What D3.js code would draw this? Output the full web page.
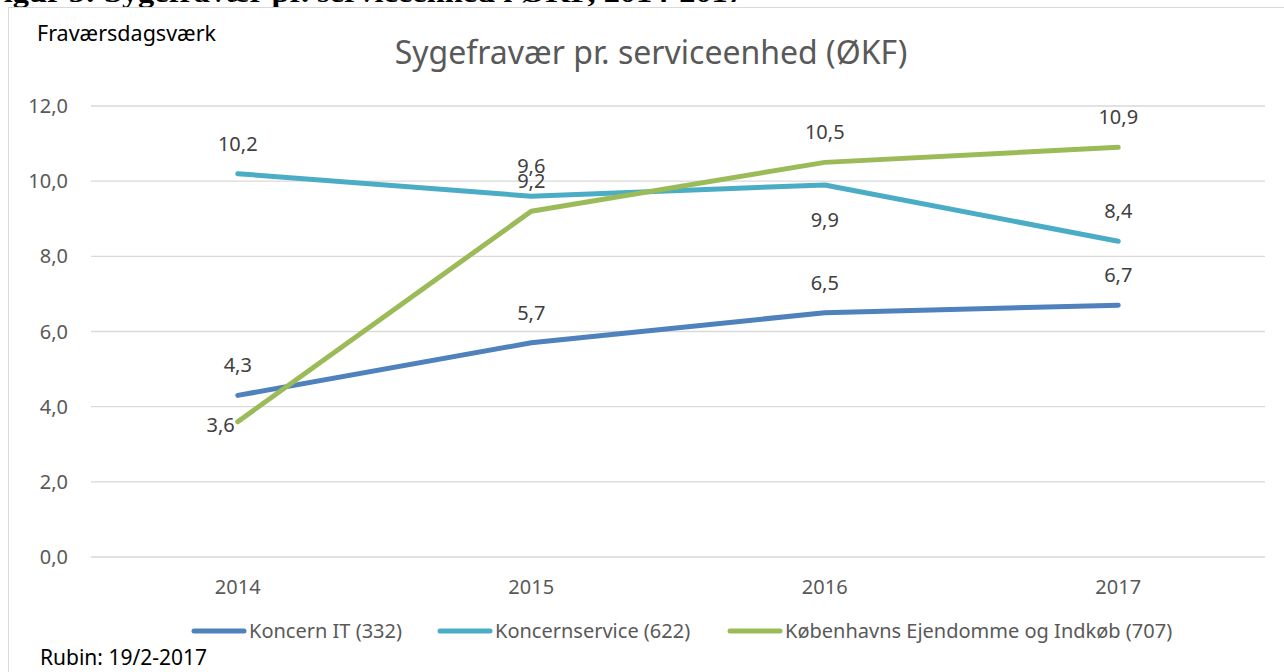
<!DOCTYPE html>
<html>
<head>
<meta charset="utf-8">
<script src="https://cdn.jsdelivr.net/npm/d3@7"></script>
<style>
  body { margin: 0; background: #fff; }
  svg { display: block; font-family: "Noto Sans", sans-serif; }
</style>
</head>
<body>
<div id="chart"></div>
<script>
// data
const years = ["2014", "2015", "2016", "2017"];
const koncernIT = [4.3, 5.7, 6.5, 6.7];
const koncernservice = [10.2, 9.6, 9.9, 8.4];
const kei = [3.6, 9.2, 10.5, 10.9];
const seriesNames = ["Koncern IT (332)", "Koncernservice (622)", "Københavns Ejendomme og Indkøb (707)"];
const yTicks = [0, 2, 4, 6, 8, 10, 12];

// label placement per point: "above", "below", "left"
const labelPos = [
  ["above", "above", "above", "above"],
  ["above", "above", "below", "above"],
  ["left", "above", "above", "above"]
];

const colors = ["#4f81bd", "#4bacc6", "#9bbb59"];
const series = [koncernIT, koncernservice, kei];

const W = 1284, H = 672;
const margin = { top: 106, right: 19, bottom: 115, left: 91 };

const svg = d3.select("#chart").append("svg")
  .attr("width", W).attr("height", H);

// the caption of the document above, cut off by the page edge
svg.append("text")
  .attr("x", -16).attr("y", 2)
  .attr("textLength", 760)
  .attr("lengthAdjust", "spacingAndGlyphs")
  .style("font-family", "'Liberation Serif', serif")
  .style("font-weight", "bold")
  .style("font-size", "27px")
  .text("Figur 5: Sygefravær pr. serviceenhed i ØKF, 2014-2017");

// chart frame
svg.append("rect")
  .attr("x", 8.5).attr("y", 7.5)
  .attr("width", W + 20).attr("height", H + 20)
  .attr("fill", "#fff")
  .attr("stroke", "#d9d9d9");

const x = d3.scaleBand()
  .domain(years)
  .range([margin.left, W - margin.right]);

const y = d3.scaleLinear()
  .domain([0, 12])
  .range([H - margin.bottom, margin.top]);

// gridlines
svg.append("g")
  .selectAll("line")
  .data(yTicks)
  .enter().append("line")
  .attr("x1", margin.left).attr("x2", W - margin.right)
  .attr("y1", d => y(d)).attr("y2", d => y(d))
  .attr("stroke", "#d9d9d9")
  .attr("stroke-width", 1.3);

// y axis labels
const fmt = d => d3.format(".1f")(d).replace(".", ",");
svg.append("g")
  .selectAll("text")
  .data(yTicks)
  .enter().append("text")
  .attr("x", 68).attr("y", d => y(d))
  .attr("dy", "0.35em")
  .attr("text-anchor", "end")
  .attr("fill", "#595959")
  .style("font-size", "20px")
  .text(fmt);

// x axis labels
svg.append("g")
  .selectAll("text")
  .data(years)
  .enter().append("text")
  .attr("x", d => x(d) + x.bandwidth() / 2)
  .attr("y", 594)
  .attr("text-anchor", "middle")
  .attr("fill", "#595959")
  .style("font-size", "20px")
  .text(d => d);

// lines
const line = d3.line()
  .x((d, i) => x(years[i]) + x.bandwidth() / 2)
  .y(d => y(d));

svg.append("g")
  .selectAll("path")
  .data(series)
  .enter().append("path")
  .attr("d", line)
  .attr("fill", "none")
  .attr("stroke", (d, i) => colors[i])
  .attr("stroke-width", 5)
  .attr("stroke-linecap", "round")
  .attr("stroke-linejoin", "round");

// data labels
series.forEach((s, si) => {
  svg.append("g")
    .selectAll("text")
    .data(s)
    .enter().append("text")
    .attr("x", (d, i) => {
      const cx = x(years[i]) + x.bandwidth() / 2;
      return labelPos[si][i] === "left" ? cx - 3 : cx;
    })
    .attr("y", (d, i) => {
      const p = labelPos[si][i];
      if (p === "above") return y(d) - 30;
      if (p === "below") return y(d) + 35;
      return y(d) + 3;
    })
    .attr("dy", "0.35em")
    .attr("text-anchor", (d, i) => labelPos[si][i] === "left" ? "end" : "middle")
    .attr("fill", "#404040")
    .style("font-size", "20px")
    .text(d => d.toFixed(1).replace(".", ","));
});

// title and axis title
svg.append("text")
  .attr("x", 651).attr("y", 64)
  .attr("text-anchor", "middle")
  .attr("fill", "#595959")
  .style("font-size", "32px")
  .text("Sygefravær pr. serviceenhed (ØKF)");

svg.append("text")
  .attr("x", 37).attr("y", 41)
  .attr("fill", "#000")
  .style("font-size", "21.5px")
  .text("Fraværsdagsværk");

// legend
const legendX = [192, 438, 728];
const legend = svg.append("g")
  .selectAll("g")
  .data(seriesNames)
  .enter().append("g")
  .attr("transform", (d, i) => "translate(" + legendX[i] + ",631)");

legend.append("line")
  .attr("x1", 2).attr("x2", 52)
  .attr("stroke", (d, i) => colors[i])
  .attr("stroke-width", 5)
  .attr("stroke-linecap", "round");

legend.append("text")
  .attr("x", 57).attr("dy", "0.35em")
  .attr("fill", "#595959")
  .style("font-size", "20px")
  .text(d => d);

svg.append("text")
  .attr("x", 40).attr("y", 665)
  .attr("fill", "#000")
  .style("font-size", "21px")
  .text("Rubin: 19/2-2017");
</script>
</body>
</html>
